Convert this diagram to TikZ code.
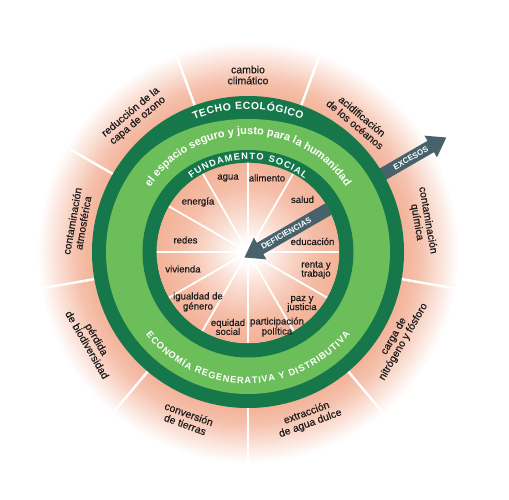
\documentclass[tikz,border=0pt]{standalone}
\usepackage{fontspec}
\setmainfont{Liberation Sans}
\newfontfamily\lblfont[FakeBold=0.6]{Liberation Sans}
\usetikzlibrary{decorations.text}
\definecolor{pinkc}{RGB}{243,178,152}
\definecolor{darkg}{RGB}{22,120,74}
\definecolor{lightg}{RGB}{108,190,90}
\definecolor{arrowc}{RGB}{72,98,108}
\definecolor{labelc}{RGB}{30,28,28}
\pgfdeclareradialshading{outerglow}{\pgfpoint{0bp}{0bp}}{color(0bp)=(pinkc); color(18bp)=(pinkc); color(20bp)=(pinkc!80!white); color(22.5bp)=(pinkc!35!white); color(24.5bp)=(white); color(50bp)=(white)}
\pgfdeclareradialshading{innerglow}{\pgfpoint{0bp}{0bp}}{color(0bp)=(white); color(2.5bp)=(white); color(10bp)=(pinkc!45!white); color(18bp)=(pinkc!85!white); color(25bp)=(pinkc); color(50bp)=(pinkc)}
\begin{document}
\begin{tikzpicture}[x=1pt,y=1pt,
  declare function={bump(\t)=max(0,1-((\t-90)/55)*((\t-90)/55))^2;},
  outerlbl/.style={text=labelc, font=\lblfont\fontsize{10.5}{11}\selectfont, align=center, inner sep=0pt},
  innerlbl/.style={text=labelc, font=\lblfont\fontsize{9.6}{9}\selectfont, align=center, inner sep=0pt},
  sepline/.style={white, line width=2.4pt},
  spoke/.style={white, line width=1.8pt},
  bigarrow/.style={fill=arrowc},
  arrowtxt/.style={text=white, font=\bfseries\fontsize{8}{8}\selectfont, inner sep=0pt}]
\useasboundingbox (-248,-248) rectangle (261,252);
% outer pink glow
\shade[shading=outerglow] (0,0) circle (215);
\foreach \a in {70,110,...,390} \draw[sepline] (\a:150) -- (\a:214);
% EXCESOS arrow
\fill[bigarrow, rotate=30] (145,-6.5) -- (211,-6.5) -- (211,-12.5) -- (229,0) -- (211,12.5) -- (211,6.5) -- (145,6.5) -- cycle;
% rings (thicker label bands at the top)
\fill[darkg] (0,0) circle (156);
\fill[lightg] plot[domain=0:360, samples=361] (\x:{142-9*bump(\x)}) -- cycle;
\fill[darkg] plot[domain=0:360, samples=361] (\x:{105.5-3.5*bump(\x)}) -- cycle;
\shade[shading=innerglow] (0,0) circle (91.5);
\foreach \a in {0,30,...,330} \draw[spoke] (0,0) -- (\a:91.5);
% DEFICIENCIAS arrow
\begin{scope}
\clip (0,0) circle (91.5);
\fill[bigarrow, shift={(-3.5,-5.5)}, rotate=30] (0,0) -- (18,12.5) -- (18,6.5) -- (110,6.5) -- (110,-6.5) -- (18,-6.5) -- (18,-12.5) -- cycle;
\end{scope}
\fill[darkg, even odd rule] (0,0) circle (92) plot[domain=0:360, samples=361] (\x:{91.5-2.2*bump(\x)}) -- cycle;
\node[arrowtxt, rotate=30] (deficiencias) at (38.1,18.5) {DEFICIENCIAS};
\node[arrowtxt, rotate=30] (excesos) at (30:188) {EXCESOS};
% ring texts
\path[decorate, decoration={text along path, text color=white, text align=fit to path,
  text={|\bfseries\fontsize{10.4}{10.4}\selectfont|TECHO ECOLÓGICO}}]
  (112.2:142.8) arc[start angle=112.2, end angle=67.8, radius=142.8];
\path[decorate, decoration={text along path, text color=white, text align=center,
  text={|\bfseries\fontsize{11}{11}\selectfont|el espacio seguro y justo para la humanidad}}]
  (150:117.5) arc[start angle=150, end angle=30, radius=117.5];
\path[decorate, decoration={text along path, text color=white, text align=fit to path,
  text={|\bfseries\fontsize{9.3}{9.3}\selectfont|FUNDAMENTO SOCIAL}}]
  (127.8:92.5) arc[start angle=127.8, end angle=52.2, radius=92.5];
\path[decorate, decoration={text along path, text color=white, text align=fit to path,
  text={|\bfseries\fontsize{9.3}{9.3}\selectfont|ECONOMÍA REGENERATIVA Y DISTRIBUTIVA}}]
  (219:131.5) arc[start angle=219, end angle=321, radius=131.5];
% inner labels
\node[innerlbl] (agua) at (-20,74) {agua};
\node[innerlbl] (alimento) at (19,74) {alimento};
\node[innerlbl] (salud) at (54.5,52.5) {salud};
\node[innerlbl] (educacion) at (64.5,10.5) {educación};
\node[innerlbl] (renta) at (68,-18) {renta y\\trabajo};
\node[innerlbl] (paz) at (54,-52) {paz y\\justicia};
\node[innerlbl] (particip) at (29,-75) {participación\\política};
\node[innerlbl] (equidad) at (-20,-75) {equidad\\social};
\node[innerlbl] (igualdad) at (-50,-50) {igualdad de\\género};
\node[innerlbl] (vivienda) at (-65,-17) {vivienda};
\node[innerlbl] (redes) at (-62.5,12) {redes};
\node[innerlbl] (energia) at (-50,50) {energía};
% outer labels
\node[outerlbl] (cambio) at (90:177) {cambio\\climático};
\node[outerlbl, rotate=-40] (acid) at (50:172) {acidificación\\de los océanos};
\node[outerlbl, rotate=-80] (quimica) at (10:177) {contaminación\\química};
\node[outerlbl, rotate=60] (carga) at (330:174) {carga de\\nitrógeno y fósforo};
\node[outerlbl, rotate=20] (aguadulce) at (290:177) {extracción\\de agua dulce};
\node[outerlbl, rotate=-20] (tierras) at (250:178) {conversión\\de tierras};
\node[outerlbl, rotate=-60] (biodiv) at (210:180) {pérdida\\de biodiversidad};
\node[outerlbl, rotate=80] (atmos) at (170:173) {contaminación\\atmosférica};
\node[outerlbl, rotate=40] (ozono) at (130:177) {reducción de la\\capa de ozono};
\end{tikzpicture}
\end{document}
